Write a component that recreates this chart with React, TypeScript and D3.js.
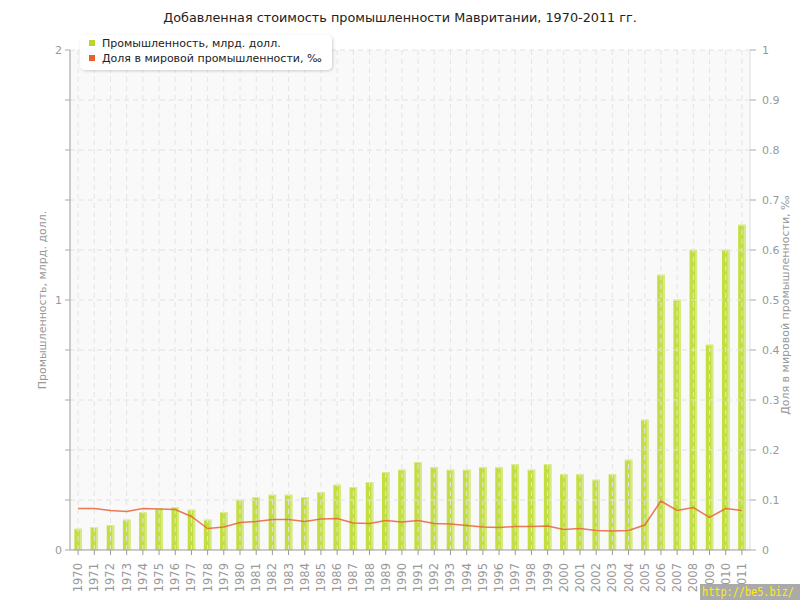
import React from "react";
import * as d3 from "d3";

const years: string[] = d3.range(1970, 2012).map(String);
const industry: number[] = [
  0.085, 0.092, 0.1, 0.121, 0.152, 0.165, 0.172, 0.161, 0.121, 0.152,
  0.201, 0.212, 0.221, 0.221, 0.212, 0.232, 0.261, 0.252, 0.272, 0.312,
  0.321, 0.352, 0.332, 0.321, 0.321, 0.332, 0.332, 0.343, 0.321, 0.343,
  0.303, 0.303, 0.281, 0.303, 0.361, 0.521, 1.101, 1.001, 1.201, 0.821,
  1.201, 1.301,
];
const share: number[] = [
  0.083, 0.083, 0.079, 0.077, 0.083, 0.082, 0.081, 0.067, 0.043, 0.046,
  0.055, 0.057, 0.061, 0.061, 0.057, 0.062, 0.063, 0.054, 0.053, 0.059,
  0.056, 0.059, 0.053, 0.052, 0.049, 0.046, 0.045, 0.047, 0.047, 0.048,
  0.041, 0.043, 0.039, 0.038, 0.039, 0.05, 0.098, 0.079, 0.085, 0.065,
  0.083, 0.079,
];
const leftTicks: number[] = [0, 1, 2];
const leftMinor: number[] = d3.range(0, 2.01, 0.2);
const rightTicks: number[] = d3.range(0, 1.001, 0.1);

const title = "Добавленная стоимость промышленности Мавритании, 1970-2011 гг.";
const seriesNames = ["Промышленность, млрд. долл.", "Доля в мировой промышленности, ‰"];
const leftTitle = "Промышленность, млрд. долл.";
const rightTitle = "Доля в мировой промышленности, ‰";

const font = "DejaVu Sans, Verdana, sans-serif";

export default function App() {
  const left = 70, right = 750, top = 50, bottom = 550;
  const x = d3.scaleBand<string>().domain(years).range([left, right]);
  const yL = d3.scaleLinear().domain([0, 2]).range([bottom, top]);
  const yR = d3.scaleLinear().domain([0, 1]).range([bottom, top]);
  const cx = (y: string) => (x(y) as number) + x.bandwidth() / 2;
  const barW = 7.5;
  const line = d3
    .line<number>()
    .x((_, i) => cx(years[i]))
    .y((d) => yR(d));

  return (
    <svg width={800} height={600} style={{ position: "absolute", left: 0, top: 0, fontFamily: font }}>
      <defs>
        <filter id="sh" x="-10%" y="-30%" width="120%" height="160%">
          <feDropShadow dx="1" dy="1" stdDeviation="1.5" floodColor="#000" floodOpacity="0.18" />
        </filter>
      </defs>
      <rect width={800} height={600} fill="#fff" />
      <text x={400} y={22} textAnchor="middle" fontSize={12.8} fill="#222">{title}</text>
      <rect x={left} y={top} width={right - left} height={bottom - top} fill="#f9f9f9" />
      {/* bars */}
      {industry.map((v, i) => (
        <g key={"b" + i}>
          <rect x={cx(years[i]) - barW / 2} y={yL(v)} width={barW} height={bottom - yL(v)} fill="#c3de40" />
          <rect x={cx(years[i]) + barW / 2 - 2} y={yL(v)} width={2} height={bottom - yL(v)} fill="#d6ea86" />
          <rect x={cx(years[i]) - barW / 2} y={yL(v)} width={barW} height={1} fill="#dbed93" />
        </g>
      ))}
      {/* grid */}
      {leftMinor.slice(1).map((t) => (
        <line key={"h" + t} x1={left} x2={right} y1={yL(t)} y2={yL(t)} stroke="#e2e2e2" strokeDasharray="5,4" />
      ))}
      {years.map((yv) => (
        <line key={"v" + yv} x1={cx(yv)} x2={cx(yv)} y1={top} y2={bottom} stroke="#e4e4e4" strokeDasharray="5,4" />
      ))}
      {/* line */}
      <path d={line(share) as string} fill="none" stroke="#e8643a" strokeWidth={1.5} strokeOpacity={0.85} />
      {/* left axis */}
      <line x1={left} x2={left} y1={top} y2={bottom} stroke="#999" />
      {leftMinor.map((t) => (
        <line key={"lt" + t} x1={left - 5} x2={left} y1={yL(t)} y2={yL(t)} stroke="#aaa" />
      ))}
      {leftTicks.map((t) => (
        <text key={"ll" + t} x={left - 8} y={yL(t) + 4} textAnchor="end" fontSize={11} fill="#999">{t}</text>
      ))}
      <text transform={`translate(46,${(top + bottom) / 2}) rotate(-90)`} textAnchor="middle" fontSize={11} fill="#999">{leftTitle}</text>
      {/* right axis */}
      <line x1={right} x2={right} y1={top} y2={bottom} stroke="#ddd" />
      {rightTicks.map((t) => (
        <g key={"rt" + t}>
          <line x1={right} x2={right + 6} y1={yR(t)} y2={yR(t)} stroke="#aaa" />
          <text x={right + 12} y={yR(t) + 4} fontSize={11} fill="#999">{d3.format("~g")(+t.toFixed(1))}</text>
        </g>
      ))}
      <text transform={`translate(789,${(top + bottom) / 2 + 5}) rotate(-90)`} textAnchor="middle" fontSize={11} fill="#999">{rightTitle}</text>
      {/* x axis */}
      <line x1={left} x2={right} y1={bottom} y2={bottom} stroke="#999" />
      {years.map((yv) => (
        <g key={"xt" + yv}>
          <line x1={cx(yv)} x2={cx(yv)} y1={bottom} y2={bottom + 5} stroke="#999" />
          <text transform={`translate(${cx(yv) + 4},${bottom + 13}) rotate(-90)`} textAnchor="end" fontSize={11.5} fill="#999">{yv}</text>
        </g>
      ))}
      {/* legend */}
      <rect x={80} y={35} width={252} height={35} rx={5} fill="#fff" filter="url(#sh)" />
      <rect x={89} y={40} width={6} height={6} fill="#b5d62c" />
      <text x={102} y={47} fontSize={11} fill="#222">{seriesNames[0]}</text>
      <rect x={89} y={55} width={6} height={6} fill="#e8602c" />
      <text x={102} y={62} fontSize={11} fill="#222">{seriesNames[1]}</text>
      {/* watermark */}
      <rect x={700} y={584} width={100} height={16} fill="#aaa" />
      <text x={702} y={596} fontSize={11.5} textLength={92} lengthAdjust="spacingAndGlyphs" fill="#ffee00" fontFamily="DejaVu Sans Mono, monospace">http://be5.biz/</text>
    </svg>
  );
}
